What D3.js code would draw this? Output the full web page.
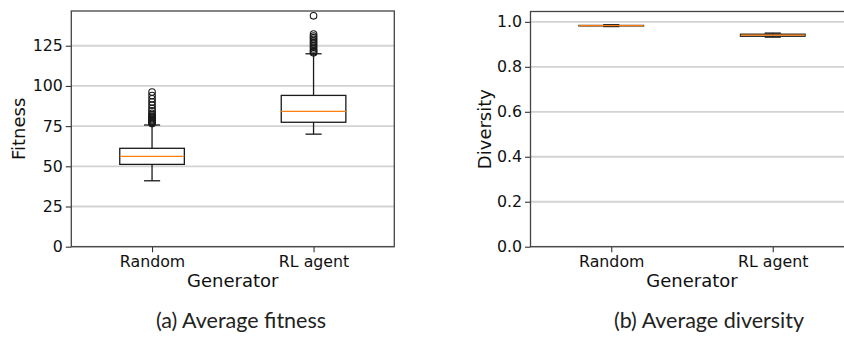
<!DOCTYPE html>
<html lang="en">
<head>
  <meta charset="UTF-8">
  <title>Average fitness and diversity</title>
  <script src="https://d3js.org/d3.v7.min.js"></script>
  <style>
    body { margin: 0; background: #fff; }
    svg { display: block; }
    .tick-label { font-family: "DejaVu Sans", sans-serif; font-size: 15.8px; fill: #111; }
    .axis-title { font-family: "DejaVu Sans", sans-serif; font-size: 18px; fill: #111; }
    .caption { font-family: Lato, "Open Sans", sans-serif; font-size: 21.5px; fill: #222; }
  </style>
</head>
<body>
  <div id="chart"></div>
  <script>
    // categories
    const generators = ["Random", "RL agent"];

    // fitness box stats
    const fitnessWhiskerLow = [41.0, 70.0];
    const fitnessQ1 = [51.2, 77.4];
    const fitnessMedian = [56.2, 84.2];
    const fitnessQ3 = [61.2, 94.1];
    const fitnessWhiskerHigh = [75.7, 120.0];
    const fitnessOutliers = [
      [76.6, 77.2, 77.8, 78.4, 79.0, 79.7, 80.4, 81.2, 82.0, 83.0, 84.5, 86.0, 88.0, 90.0, 92.0, 94.0, 96.2],
      [120.6, 121.3, 122.0, 123.0, 124.0, 125.0, 126.0, 127.0, 128.0, 129.0, 130.0, 131.0, 132.3, 143.6]
    ];
    const fitnessTicks = [0, 25, 50, 75, 100, 125];

    // diversity box stats
    const diversityWhiskerLow = [0.979, 0.932];
    const diversityQ1 = [0.982, 0.936];
    const diversityMedian = [0.983, 0.941];
    const diversityQ3 = [0.984, 0.945];
    const diversityWhiskerHigh = [0.987, 0.950];
    const diversityOutliers = [[], []];
    const diversityTicks = [0, 0.2, 0.4, 0.6, 0.8, 1.0];

    const W = 844, H = 337;
    const svg = d3.select("#chart").append("svg")
      .attr("width", W).attr("height", H);

    function boxPanel(opts) {
      const { left, right, top, bottom, yMax, ticks, fmt, yTitle, titleX,
              lo, q1, med, q3, hi, outliers } = opts;

      const x = d3.scaleLinear().domain([0.5, 2.5]).range([left, right]);
      const y = d3.scaleLinear().domain([0, yMax]).range([bottom, top]);
      const boxW = x(1.2) - x(1.0);   // half width, 0.4 data units total
      const capW = boxW / 2;

      const g = svg.append("g");

      // horizontal grid
      g.selectAll(".grid").data(ticks).enter().append("line")
        .attr("x1", left).attr("x2", right)
        .attr("y1", d => y(d)).attr("y2", d => y(d))
        .attr("stroke", "#d3d3d3").attr("stroke-width", 1.8);

      // y axis
      const yAxis = g.append("g")
        .attr("transform", `translate(${left},0)`)
        .call(d3.axisLeft(y).tickValues(ticks).tickFormat(fmt).tickSizeOuter(0).tickSize(5.5).tickPadding(3));
      yAxis.select(".domain").remove();
      yAxis.selectAll("line").attr("stroke", "#333").attr("stroke-width", 1.1);
      yAxis.selectAll("text").attr("class", "tick-label").attr("font-size", null).attr("font-family", null);

      // x axis
      const xAxis = g.append("g")
        .attr("transform", `translate(0,${bottom})`)
        .call(d3.axisBottom(x).tickValues([1, 2]).tickFormat((d, i) => generators[i]).tickSizeOuter(0).tickSize(5.5).tickPadding(4));
      xAxis.select(".domain").remove();
      xAxis.selectAll("line").attr("stroke", "#333").attr("stroke-width", 1.1);
      xAxis.selectAll("text").attr("class", "tick-label").attr("font-size", null).attr("font-family", null);

      // frame
      g.append("rect")
        .attr("x", left).attr("y", top)
        .attr("width", right - left).attr("height", bottom - top)
        .attr("fill", "none").attr("stroke", "#444").attr("stroke-width", 1.3);

      // boxes
      generators.forEach((name, i) => {
        const cx = x(i + 1);
        const bg = g.append("g").attr("stroke", "#1a1a1a").attr("stroke-width", 1.3).attr("fill", "none");
        // whiskers
        bg.append("line").attr("x1", cx).attr("x2", cx).attr("y1", y(q1[i])).attr("y2", y(lo[i]));
        bg.append("line").attr("x1", cx).attr("x2", cx).attr("y1", y(q3[i])).attr("y2", y(hi[i]));
        // caps
        bg.append("line").attr("x1", cx - capW / 2).attr("x2", cx + capW / 2).attr("y1", y(lo[i])).attr("y2", y(lo[i]));
        bg.append("line").attr("x1", cx - capW / 2).attr("x2", cx + capW / 2).attr("y1", y(hi[i])).attr("y2", y(hi[i]));
        // box
        bg.append("rect")
          .attr("x", cx - boxW).attr("y", y(q3[i]))
          .attr("width", boxW * 2).attr("height", Math.max(0.01, y(q1[i]) - y(q3[i])));
        // median
        g.append("line")
          .attr("x1", cx - boxW).attr("x2", cx + boxW)
          .attr("y1", y(med[i])).attr("y2", y(med[i]))
          .attr("stroke", "#ff7f0e").attr("stroke-width", 1.3);
        // fliers
        g.selectAll(null).data(outliers[i]).enter().append("circle")
          .attr("cx", cx).attr("cy", d => y(d)).attr("r", 3.3)
          .attr("fill", "none").attr("stroke", "#1a1a1a").attr("stroke-width", 1.1);
      });

      // axis titles
      svg.append("text").attr("class", "axis-title")
        .attr("text-anchor", "middle")
        .attr("x", (left + right) / 2).attr("y", 287)
        .text("Generator");

      svg.append("text").attr("class", "axis-title")
        .attr("text-anchor", "middle")
        .attr("transform", `translate(${titleX},${(top + bottom) / 2}) rotate(-90)`)
        .attr("dy", "0.35em")
        .text(yTitle);
    }

    boxPanel({
      left: 71.3, right: 394.3, top: 11, bottom: 246.7, yMax: 146.6,
      ticks: fitnessTicks, fmt: d3.format("d"), yTitle: "Fitness", titleX: 19,
      lo: fitnessWhiskerLow, q1: fitnessQ1, med: fitnessMedian, q3: fitnessQ3,
      hi: fitnessWhiskerHigh, outliers: fitnessOutliers
    });

    boxPanel({
      left: 530.5, right: 853.5, top: 11.5, bottom: 246.7, yMax: 1.046,
      ticks: diversityTicks, fmt: d3.format(".1f"), yTitle: "Diversity", titleX: 485,
      lo: diversityWhiskerLow, q1: diversityQ1, med: diversityMedian, q3: diversityQ3,
      hi: diversityWhiskerHigh, outliers: diversityOutliers
    });

    // sub-captions
    svg.append("text").attr("class", "caption")
      .attr("text-anchor", "middle").attr("x", 241).attr("y", 328)
      .text("(a) Average fitness");
    svg.append("text").attr("class", "caption")
      .attr("text-anchor", "middle").attr("x", 709).attr("y", 328)
      .text("(b) Average diversity");
  </script>
</body>
</html>
